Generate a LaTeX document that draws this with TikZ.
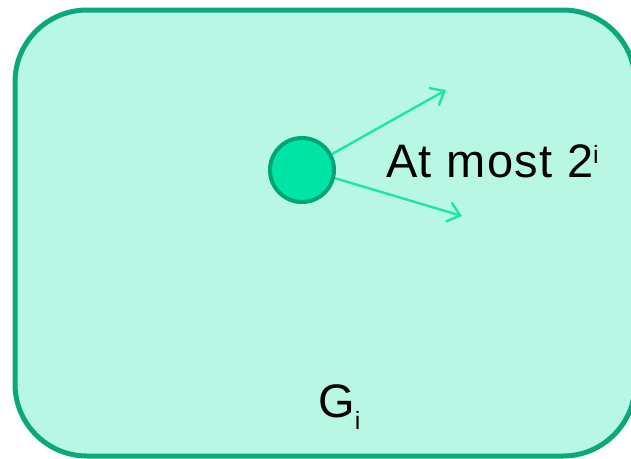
\documentclass[tikz,border=0pt]{standalone}
\usepackage{fontspec}
\setmainfont{Liberation Sans}
\usetikzlibrary{arrows.meta}
\definecolor{boxfill}{RGB}{183,247,228}
\definecolor{boxline}{RGB}{10,168,122}
\definecolor{dotfill}{RGB}{0,228,165}
\definecolor{dotline}{RGB}{0,166,118}
\definecolor{arrowcol}{RGB}{30,228,172}
\tikzset{
  frame/.style={draw=boxline, fill=boxfill, line width=5pt, rounded corners=72pt},
  vertex/.style={circle, draw=dotline, fill=dotfill, line width=4pt, minimum size=64pt, inner sep=0pt},
  edgearrow/.style={draw=arrowcol, line width=2.4pt, -{Straight Barb[length=12pt, width=20pt, line width=2.4pt]}},
  lbl/.style={inner sep=0pt, anchor=base west, font=\fontsize{47}{50}\selectfont\addfontfeatures{LetterSpace=3}}
}
\begin{document}
\begin{tikzpicture}[x=1pt, y=-1pt]
\useasboundingbox (0,0) rectangle (631,458);
\begin{scope}
\clip (0,0) rectangle (631,458);
\draw[frame] (15,10) rectangle (635,456);
\end{scope}
\node[vertex] (v) at (302,170) {};
\coordinate (e1) at (446,90);
\coordinate (e2) at (462,216);
\draw[edgearrow] (v.28) -- (e1);
\draw[edgearrow] (v.-14) -- (e2);
\node[lbl] (t) at (386,177) {At most 2\raisebox{14pt}{\fontsize{25}{25}\selectfont i}};
\node[lbl] (g) at (318,417) {G\raisebox{-12pt}{\fontsize{25}{25}\selectfont i}};
\end{tikzpicture}
\end{document}
